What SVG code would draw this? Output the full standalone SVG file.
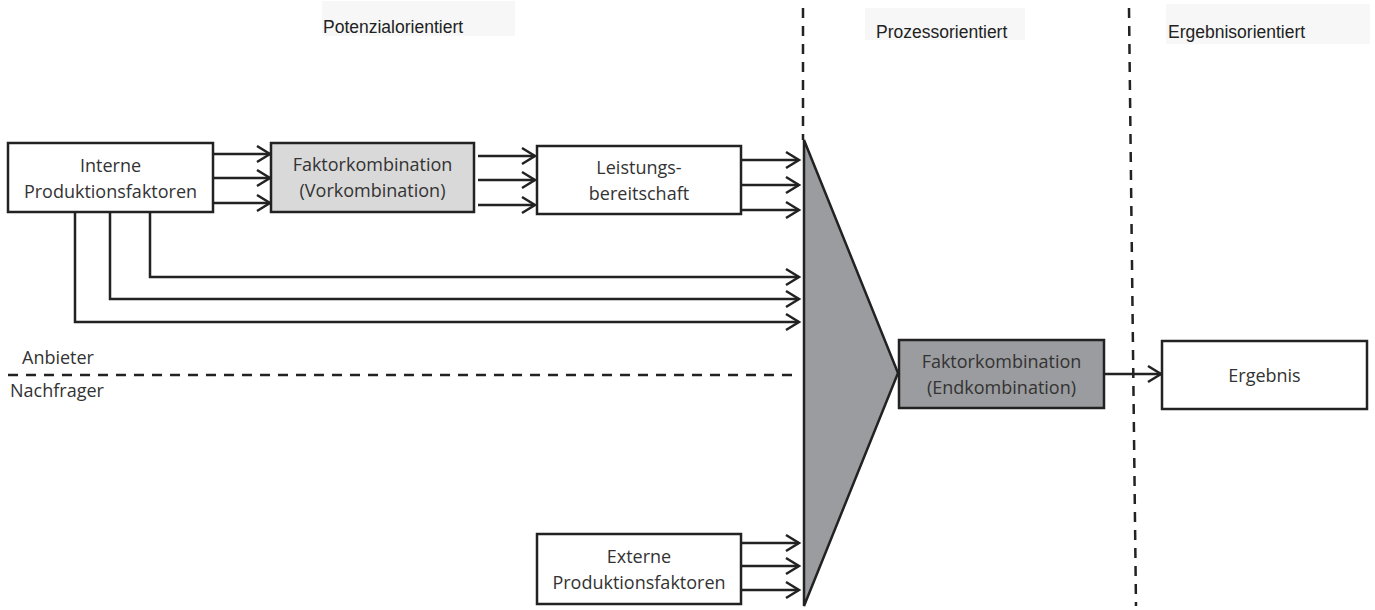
<svg xmlns="http://www.w3.org/2000/svg" width="1375" height="610" viewBox="0 0 1375 610">
  <style>
    .box { stroke: #222; stroke-width: 2.5; }
    .white { fill: #fff; }
    .light { fill: #d9d9d9; }
    .dark { fill: #9b9c9f; }
    .lbl { font-family: "Open Sans", "Noto Sans", sans-serif; font-size: 18px; fill: #333; text-anchor: middle; }
    .side { font-family: "Open Sans", "Noto Sans", sans-serif; font-size: 18px; fill: #333; }
    .head { font-family: "Liberation Sans", Arial, sans-serif; font-size: 17.5px; fill: #222; }
    .headbg { fill: #f7f7f7; }
    .wire { fill: none; stroke: #222; stroke-width: 2.5; }
    .dash { fill: none; stroke: #222; stroke-width: 2.5; stroke-dasharray: 10 8; }
  </style>
  <defs>
    <marker id="arr" markerUnits="userSpaceOnUse" markerWidth="18" markerHeight="20" refX="15" refY="10" orient="auto">
      <path d="M2,2 L15,10 L2,18" fill="none" stroke="#222" stroke-width="2.5"/>
    </marker>
  </defs>
  <rect width="1375" height="610" fill="#fff"/>

  <!-- column headings -->
  <g id="heading-potenzial">
    <rect class="headbg" x="322" y="1" width="193" height="35"/>
    <text class="head" x="323" y="33">Potenzialorientiert</text>
  </g>
  <g id="heading-prozess">
    <rect class="headbg" x="865" y="8" width="160" height="32"/>
    <text class="head" x="876" y="38">Prozessorientiert</text>
  </g>
  <g id="heading-ergebnis">
    <rect class="headbg" x="1166" y="4" width="204" height="40"/>
    <text class="head" x="1168" y="38">Ergebnisorientiert</text>
  </g>

  <!-- phase separators and supplier/customer line -->
  <g id="separators">
    <line class="dash" x1="803" y1="8" x2="803" y2="140"/>
    <line class="dash" x1="1129" y1="8" x2="1136" y2="606"/>
    <line class="dash" x1="8" y1="375" x2="796" y2="375"/>
  </g>
  <g id="side-labels">
    <text class="side" x="22" y="364">Anbieter</text>
    <text class="side" x="10" y="397">Nachfrager</text>
  </g>

  <!-- connectors -->
  <g id="connectors">
    <line class="wire" x1="213" y1="154" x2="270" y2="154" marker-end="url(#arr)"/>
    <line class="wire" x1="213" y1="178" x2="270" y2="178" marker-end="url(#arr)"/>
    <line class="wire" x1="213" y1="203" x2="270" y2="203" marker-end="url(#arr)"/>
    <line class="wire" x1="478" y1="156" x2="535" y2="156" marker-end="url(#arr)"/>
    <line class="wire" x1="478" y1="180" x2="535" y2="180" marker-end="url(#arr)"/>
    <line class="wire" x1="478" y1="205" x2="535" y2="205" marker-end="url(#arr)"/>
    <line class="wire" x1="741" y1="160" x2="799" y2="160" marker-end="url(#arr)"/>
    <line class="wire" x1="741" y1="185" x2="799" y2="185" marker-end="url(#arr)"/>
    <line class="wire" x1="741" y1="210" x2="799" y2="210" marker-end="url(#arr)"/>
    <polyline class="wire" points="150,212 150,277 799,277" marker-end="url(#arr)"/>
    <polyline class="wire" points="110,212 110,299 799,299" marker-end="url(#arr)"/>
    <polyline class="wire" points="75,212 75,322 799,322" marker-end="url(#arr)"/>
    <line class="wire" x1="741" y1="543" x2="799" y2="543" marker-end="url(#arr)"/>
    <line class="wire" x1="741" y1="566" x2="799" y2="566" marker-end="url(#arr)"/>
    <line class="wire" x1="741" y1="590" x2="799" y2="590" marker-end="url(#arr)"/>
    <line class="wire" x1="1104" y1="374" x2="1161" y2="374" marker-end="url(#arr)"/>
  </g>

  <!-- nodes -->
  <g id="interne">
    <rect class="box white" x="8" y="143" width="205" height="69"/>
    <text class="lbl" x="110.5" y="172">Interne</text>
    <text class="lbl" x="110.5" y="198">Produktionsfaktoren</text>
  </g>
  <g id="vorkombination">
    <rect class="box light" x="271" y="143" width="203" height="69"/>
    <text class="lbl" x="372.5" y="171">Faktorkombination</text>
    <text class="lbl" x="372.5" y="197">(Vorkombination)</text>
  </g>
  <g id="leistungsbereitschaft">
    <rect class="box white" x="537" y="146" width="204" height="68"/>
    <text class="lbl" x="639" y="174">Leistungs-</text>
    <text class="lbl" x="639" y="200">bereitschaft</text>
  </g>
  <g id="trichter">
    <polygon class="box dark" points="804,140 898,373 804,606"/>
  </g>
  <g id="endkombination">
    <rect class="box dark" x="899" y="340" width="205" height="68"/>
    <text class="lbl" x="1001.5" y="368">Faktorkombination</text>
    <text class="lbl" x="1001.5" y="394">(Endkombination)</text>
  </g>
  <g id="ergebnis">
    <rect class="box white" x="1162" y="341" width="205" height="68"/>
    <text class="lbl" x="1264.5" y="382">Ergebnis</text>
  </g>
  <g id="externe">
    <rect class="box white" x="537" y="534" width="204" height="70"/>
    <text class="lbl" x="639" y="563">Externe</text>
    <text class="lbl" x="639" y="589">Produktionsfaktoren</text>
  </g>
</svg>
